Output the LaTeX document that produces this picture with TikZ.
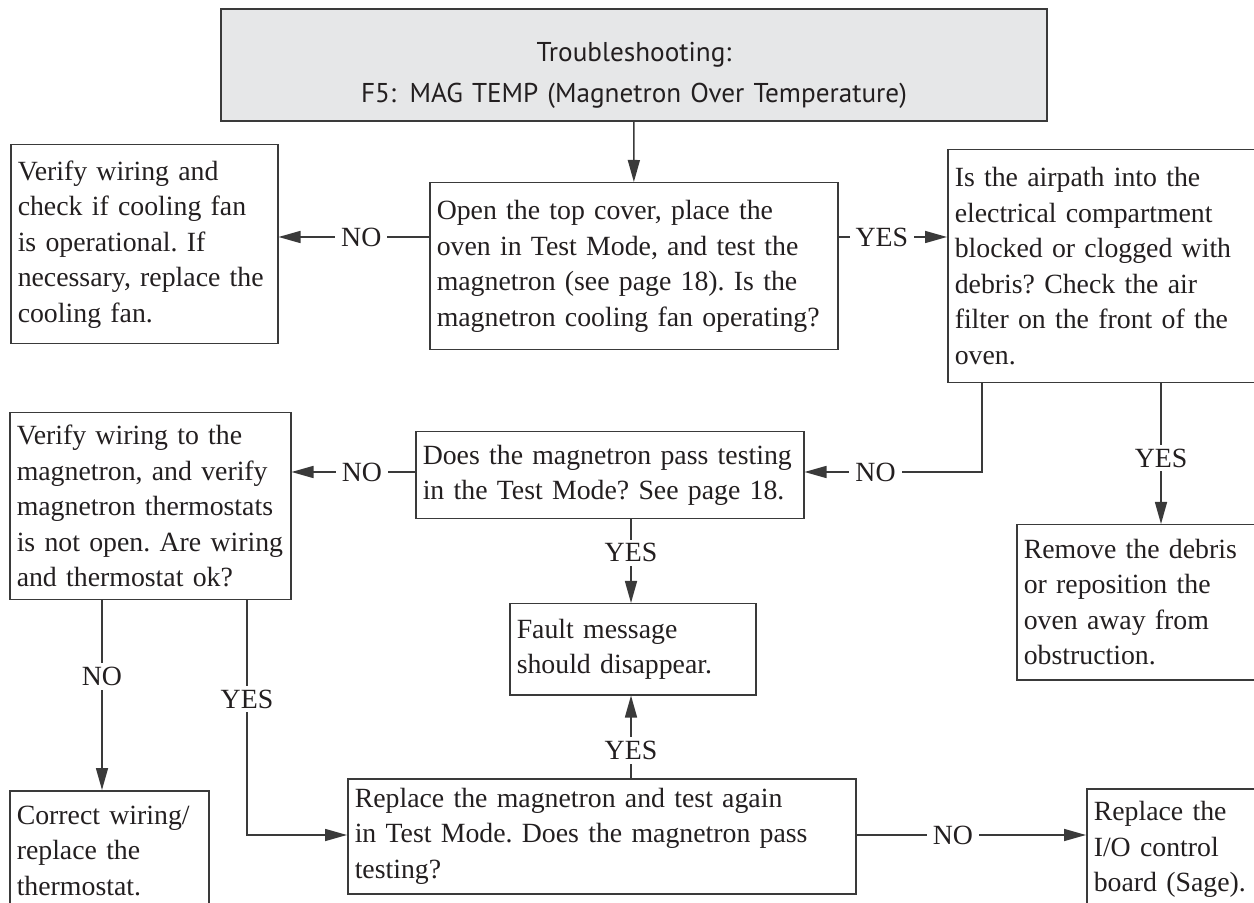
\documentclass[tikz,border=0pt]{standalone}
\usepackage{fontspec}
\setmainfont{Liberation Serif}
\newfontfamily\titlefont{PT Sans}
\usetikzlibrary{arrows.meta}
\definecolor{boxline}{HTML}{3A3A3A}
\definecolor{headfill}{HTML}{E6E7E8}
\definecolor{ink}{HTML}{231F20}
\newcommand{\bodysize}{\fontsize{13.9pt}{17.75pt}\selectfont\frenchspacing\hyphenpenalty=10000}

\begin{document}
\begin{tikzpicture}[x=0.5pt,y=-0.5pt,
  box/.style={draw=boxline,line width=0.75pt,anchor=north west,align=left,inner xsep=3.5pt,inner ysep=0pt,text=ink,font=\bodysize},
  arr/.style={draw=boxline,line width=0.75pt,-{Triangle[length=11pt,width=6pt]}},
  lbl/.style={fill=white,inner xsep=3pt,inner ysep=2pt,text=ink,font=\bodysize}]
  \useasboundingbox (0,0) rectangle (1254,903); \clip (0,0) rectangle (1254,903);
  \coordinate (rowA) at (0,237); \coordinate (rowB) at (0,472); \coordinate (rowC) at (0,835);
  \coordinate (colN) at (982,0); \coordinate (colY) at (1161,0); \coordinate (colF) at (631,0);
  \coordinate (colNo) at (102,0); \coordinate (colYes) at (247,0);

  \node[box,fill=headfill,line width=1pt,align=center,text width=406pt,minimum height=56pt,font=\titlefont\fontsize{13.6pt}{20.5pt}\selectfont] (T) at (220,8) {\rule{0pt}{20pt}Troubleshooting:\\F5: MAG TEMP (Magnetron Over Temperature)};
  \node[box,text width=126.5pt,minimum height=99.5pt] (L1) at (10,144) {Verify wiring and\\check if cooling fan\\is operational. If\\necessary, replace the\\cooling fan.};
  \node[box,text width=197pt,minimum height=83.5pt] (A) at (429,182) {Open the top cover, place the\\oven in Test Mode, and test the\\magnetron (see page 18). Is the\\magnetron cooling fan operating?};
  \node[box,text width=147.5pt,minimum height=116.5pt] (R1) at (947,149) {Is the airpath into the\\electrical compartment\\blocked or clogged with\\debris? Check the air\\filter on the front of the\\oven.};
  \node[box,text width=133.5pt,minimum height=93.5pt] (L2) at (9,412) {Verify wiring to the\\magnetron, and verify\\magnetron thermostats\\is not open. Are wiring\\and thermostat ok?};
  \node[box,text width=187pt,minimum height=43.5pt] (B) at (415,431) {Does the magnetron pass testing\\in the Test Mode? See page 18.};
  \node[box,text width=116pt,minimum height=45.5pt] (F) at (509,603) {Fault message\\should disappear.};
  \node[box,text width=113pt,minimum height=77.5pt] (R2) at (1016,524) {Remove the debris\\or reposition the\\oven away from\\obstruction.};
  \node[box,text width=92.5pt,minimum height=60pt] (L3) at (9,790) {Correct wiring/\\replace the\\thermostat.};
  \node[box,text width=247pt,minimum height=57.5pt] (C) at (347,778) {Replace the magnetron and test again\\in Test Mode. Does the magnetron pass\\testing?};
  \node[box,text width=78pt,minimum height=61pt] (R3) at (1086,788) {Replace the\\I/O control\\board (Sage).};

  \draw[arr] (T) -- (A);
  \draw[arr] (A.west |- rowA) -- node[lbl,pos=0.45]{NO} (L1.east |- rowA);
  \draw[arr] (A.east |- rowA) -- node[lbl,pos=0.4]{YES} (R1.west |- rowA);
  \draw[arr] (R1.south -| colN) |- node[lbl,pos=0.8]{NO} (B.east |- rowB);
  \draw[arr] (R1.south -| colY) -- node[lbl,pos=0.53]{YES} (R2.north -| colY);
  \draw[arr] (B.west |- rowB) -- node[lbl,pos=0.43]{NO} (L2.east |- rowB);
  \draw[arr] (B.south -| colF) -- node[lbl,pos=0.4]{YES} (F.north -| colF);
  \draw[arr] (L2.south -| colNo) -- node[lbl,pos=0.4]{NO} (L3.north -| colNo);
  \draw[arr] (L2.south -| colYes) |- node[lbl,pos=0.21]{YES} (C.west |- rowC);
  \draw[arr] (C.north -| colF) -- node[lbl,pos=0.33]{YES} (F.south -| colF);
  \draw[arr] (C.east |- rowC) -- node[lbl,pos=0.42]{NO} (R3.west |- rowC);
\end{tikzpicture}
\end{document}
